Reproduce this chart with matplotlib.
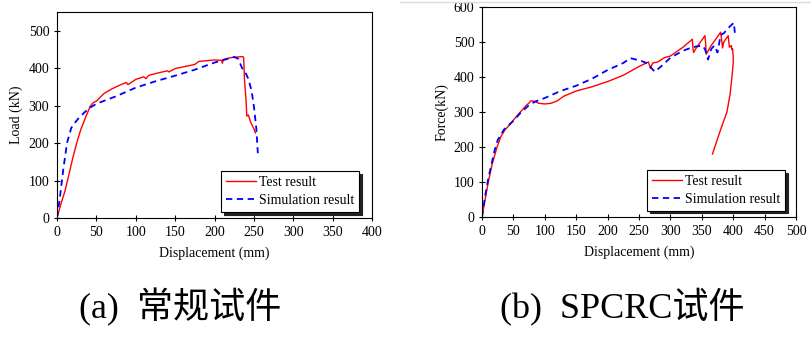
import matplotlib.pyplot as plt
from matplotlib.lines import Line2D

# data
# (a) conventional specimen
a_test_x = [0, 5, 10, 15, 20, 25, 30, 36, 42, 46, 50, 60, 70, 80, 88, 90, 100, 110, 113, 116, 120,
            140, 142, 150, 175, 178, 180, 200, 209, 210, 211, 220, 230, 236, 237, 238, 240, 241,
            243, 246, 250, 252]
a_test_y = [0, 38, 71, 115, 160, 200, 235, 267, 298, 308, 312, 333, 345, 355, 362, 356, 370, 377, 372,
            380, 383, 393, 390, 399, 410, 415, 418, 422, 421, 413, 423, 428, 430, 431, 428, 370, 315, 272,
            275, 255, 238, 227]
a_sim_x = [0, 4, 8, 12.7, 18, 23, 28, 34, 40, 50, 75, 100, 125, 150, 175, 200, 215, 225, 230, 235,
           240, 243, 247, 250, 253, 255]
a_sim_y = [0, 60, 130, 200, 240, 255, 268, 280, 292, 305, 325, 348, 365, 380, 396, 415, 424, 430, 425,
           400, 385, 371, 340, 298, 240, 173]

# (b) SPCRC specimen
b_test_x = [0, 5, 10, 16, 24, 30, 37, 45, 50, 60, 70, 75, 78, 85, 90, 100, 110, 120, 130, 150, 175,
            200, 225, 250, 265, 267, 268, 272, 280, 290, 300, 320, 335, 336, 337, 340, 355, 356, 357,
            365, 380, 382, 383, 385, 392, 393, 394, 397, 398, 399, 400, 400, 398, 395, 390, 380, 367]
b_test_y = [0, 50, 100, 150, 200, 230, 250, 265, 277, 298, 318, 326, 332, 330, 325, 323, 325, 332, 345,
            360, 372, 387, 405, 430, 443, 432, 425, 440, 443, 455, 460, 485, 508, 480, 470, 480, 518, 500,
            465, 490, 528, 500, 483, 500, 518, 500, 485, 490, 478, 480, 460, 440, 400, 350, 300, 250, 180]
b_sim_x = [0, 5, 10, 15, 20, 25, 35, 50, 60, 75, 85, 100, 125, 150, 175, 200, 225, 236, 245, 255, 265,
           270, 275, 285, 300, 320, 335, 350, 355, 360, 365, 370, 375, 380, 385, 395, 401, 403]
b_sim_y = [0, 60, 110, 150, 190, 220, 250, 275, 295, 320, 330, 340, 360, 375, 395, 420, 440, 454, 450,
           445, 438, 425, 415, 430, 455, 475, 485, 490, 480, 450, 480, 490, 470, 520, 525, 545, 555, 520]

panels = [
    dict(rect=[0.0702, 0.3718, 0.3880, 0.5936], tx=a_test_x, ty=a_test_y, sx=a_sim_x, sy=a_sim_y,
         xlim=(0, 400), xticks=range(0, 401, 50), ylim=(0, 550), yticks=range(0, 501, 100),
         ylabel='Load (kN)', leg=(0.52, 0.03), caption='(a)  常规试件', cap_x=79 / 812),
    dict(rect=[0.5936, 0.3746, 0.3867, 0.6052], tx=b_test_x, ty=b_test_y, sx=b_sim_x, sy=b_sim_y,
         xlim=(0, 500), xticks=range(0, 501, 50), ylim=(0, 600), yticks=range(0, 601, 100),
         ylabel='Force(kN)', leg=(0.525, 0.03), caption='(b)  SPCRC试件', cap_x=500 / 812),
]

serif = ['Liberation Serif', 'DejaVu Serif']
plt.rcParams['font.family'] = serif
plt.rcParams['font.size'] = 10

fig = plt.figure(figsize=(8.12, 3.47), dpi=100)

for p in panels:
    ax = fig.add_axes(p['rect'])
    ax.plot(p['tx'], p['ty'], color='#ff0000', lw=1.0, label='Test result')
    ax.plot(p['sx'], p['sy'], color='#0000ff', lw=1.3, dashes=(3.5, 2.5), label='Simulation result')
    ax.set_xlim(p['xlim'])
    ax.set_ylim(p['ylim'])
    ax.set_xticks(list(p['xticks']))
    ax.set_yticks(list(p['yticks']))
    ax.tick_params(direction='inout', length=5, width=0.8, labelsize=10, pad=3)
    for s in ax.spines.values():
        s.set_linewidth(0.8)
    ax.set_xlabel('Displacement (mm)', fontsize=10, labelpad=6)
    ax.set_ylabel(p['ylabel'], fontsize=10, labelpad=4)
    leg = ax.legend(loc='lower left', bbox_to_anchor=p['leg'], fancybox=False,
                    shadow={'color': '#222222', 'alpha': 1},
                    edgecolor='black', framealpha=1, fontsize=10, handlelength=2.2,
                    handletextpad=0.2, borderpad=0.35, labelspacing=0.35, borderaxespad=0)
    leg.get_frame().set_linewidth(0.8)
    fig.text(p['cap_x'], 0.083, p['caption'], fontsize=26, ha='left', va='baseline',
             family=['Liberation Serif', 'Noto Sans CJK SC'])

# faint border line at the top of the right half
fig.add_artist(Line2D([400 / 812, 1], [0.995, 0.995], color='#dddddd', lw=1))

fig.savefig('out.png', dpi=100)
